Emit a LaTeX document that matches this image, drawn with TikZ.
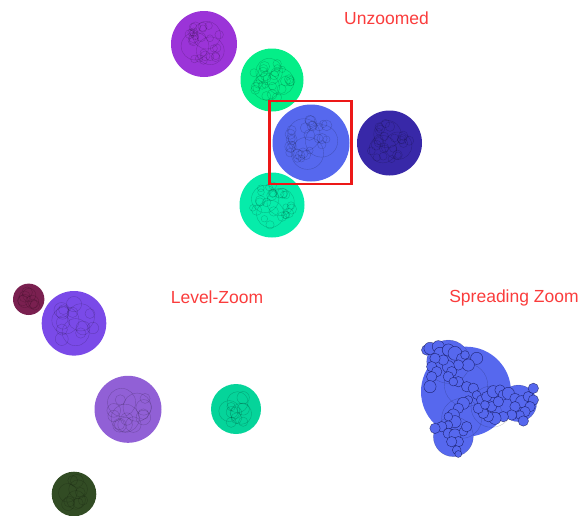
\documentclass[tikz,border=0pt]{standalone}
\usepackage{fontspec}
\setmainfont{Liberation Sans}
\definecolor{cPurpleA}{RGB}{155,52,216}
\definecolor{cGreenA}{RGB}{4,238,136}
\definecolor{cBlueA}{RGB}{86,104,238}
\definecolor{cNavyA}{RGB}{56,40,168}
\definecolor{cTealA}{RGB}{6,236,170}
\definecolor{cMaroon}{RGB}{122,32,80}
\definecolor{cPurpleB}{RGB}{122,74,232}
\definecolor{cLilac}{RGB}{145,96,214}
\definecolor{cTealB}{RGB}{5,212,154}
\definecolor{cDkGreen}{RGB}{50,76,36}
\definecolor{cLabel}{RGB}{250,60,60}
\definecolor{cFrame}{RGB}{236,24,24}
\tikzset{
  blob/.style={fill=#1, draw=none},
  inner/.style={draw=black, draw opacity=0.2, line width=0.4pt},
  spread/.style={fill=cBlueA, draw=black!80!blue, draw opacity=0.6, line width=0.45pt},
  lbl/.style={text=cLabel, font=\fontsize{17.5}{20}\selectfont, inner sep=0pt},
}
\newcommand\mycluster[6]{%
  \pgfmathsetseed{#4}%
  \foreach \k in {1,...,#5}{%
    \pgfmathsetmacro\aa{rnd*360}%
    \pgfmathsetmacro\dd{(0.12+0.5*sqrt(rnd))*#3}%
    \pgfmathsetmacro\rr{(0.75+0.5*rnd)*#6*#3}%
    \draw[inner] ({#1+\dd*cos(\aa)},{#2+\dd*sin(\aa)}) circle[radius=\rr];
  }%
  \foreach \ang in {90,210,330}{%
    \draw[inner] ({#1+0.28*#3*cos(\ang+#4*7)},{#2+0.28*#3*sin(\ang+#4*7)}) circle[radius=0.42*#3];
  }%
}
\begin{document}
\begin{tikzpicture}[x=1pt,y=-1pt]
\useasboundingbox (0,0) rectangle (583,515);
% ---------- Unzoomed ----------
\fill[blob=cPurpleA] (204,44) circle[radius=33];
\mycluster{204}{44}{33}{11}{26}{0.13}
\fill[blob=cGreenA] (272,80) circle[radius=31.5];
\mycluster{272}{80}{31.5}{23}{26}{0.13}
\fill[blob=cBlueA] (311,143) circle[radius=38.5];
\mycluster{311}{143}{38.5}{37}{28}{0.12}
\fill[blob=cNavyA] (389.5,143) circle[radius=32.5];
\mycluster{389.5}{143}{32.5}{41}{24}{0.13}
\fill[blob=cTealA] (272,205) circle[radius=32.5];
\mycluster{272}{205}{32.5}{53}{26}{0.13}
\draw[cFrame, line width=2.2pt] (269.5,101) rectangle (351.5,184);
\node[lbl] (tUnz) at (386.5,18) {Unzoomed};
% ---------- Level-Zoom ----------
\fill[blob=cMaroon] (28.7,299.3) circle[radius=15.7];
\mycluster{28.7}{299.3}{15.7}{61}{5}{0.3}
\fill[blob=cPurpleB] (74,323.3) circle[radius=32.3];
\mycluster{74}{323.3}{32.3}{67}{12}{0.19}
\fill[blob=cLilac] (128,409.3) circle[radius=33.5];
\mycluster{128}{409.3}{33.5}{71}{12}{0.19}
\fill[blob=cTealB] (236,409) circle[radius=25];
\mycluster{236}{409}{25}{79}{8}{0.22}
\fill[blob=cDkGreen] (74,494) circle[radius=22.3];
\mycluster{74}{494}{22.3}{83}{7}{0.24}
\node[lbl] (tLev) at (217,297) {Level-Zoom};
% ---------- Spreading Zoom ----------
\node[lbl] (tSpr) at (514,298) {Spreading Zoom};
\begin{scope}[shift={(415pt,-335pt)}, x=0.3333pt, y=-0.3333pt]
  \fill[cBlueA] (100,80) circle[radius=65];
  \fill[cBlueA] (310,205) circle[radius=55];
  \fill[cBlueA] (115,305) circle[radius=60];
  \fill[cBlueA] (153,170) circle[radius=135];
  \draw[inner] (100,80) circle[radius=65];
  \draw[inner] (310,205) circle[radius=55];
  \draw[inner] (115,305) circle[radius=60];
  \draw[inner] (153,150) circle[radius=65];
  \draw[inner] (230,215) circle[radius=62];
  \draw[inner] (140,250) circle[radius=60];
  \foreach \x/\y/\r in {35/45/12,45/40/14,70/35/14,75/55/14,100/45/14,120/55/16,140/70/12,150/60/10,185/70/14,160/90/14,130/90/12,100/95/14,85/75/12,60/70/12,50/95/12,65/110/12,50/125/12,45/155/14,110/110/12,100/125/12,130/140/12,115/140/10,155/155/12,175/160/12,185/180/10,
    200/195/12,215/185/12,235/170/14,255/165/12,265/180/12,280/175/14,300/190/12,320/200/14,340/185/12,355/160/12,355/195/12,345/215/12,330/230/12,315/240/10,325/258/12,300/215/12,290/240/12,265/245/12,240/250/14,220/245/12,205/235/12,190/220/12,230/215/12,250/200/12,210/210/10,
    160/195/10,145/205/14,130/220/12,115/240/14,120/260/14,100/270/10,80/275/12,60/280/12,100/295/12,120/300/14,130/320/12,110/320/12,125/345/10,130/357/8,145/290/10,155/275/12,100/245/10}{
    \draw[spread] (\x,\y) circle[radius=1.3*\r];
  }
\end{scope}
\end{tikzpicture}
\end{document}
